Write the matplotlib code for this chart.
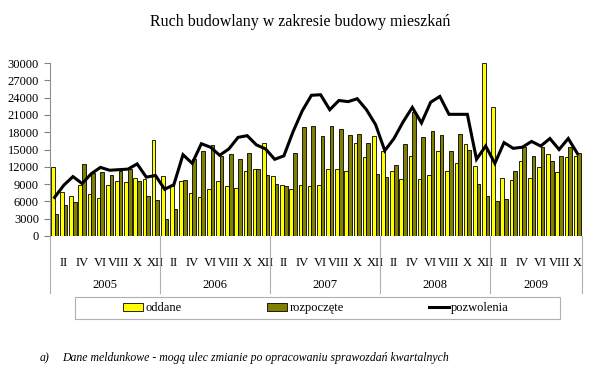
import numpy as np
import matplotlib
matplotlib.use("Agg")
import matplotlib.pyplot as plt
from matplotlib.patches import Patch, Rectangle
from matplotlib.lines import Line2D
import matplotlib.transforms as mtransforms

plt.rcParams['font.family'] = ['Liberation Serif', 'DejaVu Serif']

# monthly data, I 2005 - X 2009
years = ['2005', '2006', '2007', '2008', '2009']
month_names = ['I', 'II', 'III', 'IV', 'V', 'VI', 'VII', 'VIII', 'IX', 'X', 'XI', 'XII']
months_per_year = [12, 12, 12, 12, 10]

oddane = [
    12000, 7600, 6900, 8900, 7300, 6600, 8800, 9600, 9400, 10000, 9900, 16600,
    10400, 8600, 9500, 7400, 6700, 8200, 9600, 8700, 8300, 11350, 11700, 16150,
    10400, 8800, 8200, 8900, 8600, 8900, 11600, 11600, 11200, 16100, 13700, 17400,
    14700, 11200, 9900, 13850, 9900, 10600, 14800, 11350, 12600, 16000, 12200, 30000,
    22300, 10000, 9700, 13000, 10000, 11900, 14200, 11100, 13700, 13800,
]
rozpoczete = [
    3900, 5400, 5900, 12500, 11000, 11100, 10500, 11300, 11600, 9600, 6900, 6300,
    2900, 4600, 9700, 13400, 14800, 15800, 13900, 14250, 13400, 14400, 11700, 10600,
    9000, 8700, 14400, 18900, 19100, 17400, 19100, 18600, 17500, 17700, 16100, 10700,
    10200, 12300, 16000, 21550, 17100, 18250, 17600, 14800, 17700, 14900, 9000, 6950,
    6100, 6500, 11350, 15400, 13900, 15400, 13000, 13900, 15500, 14400,
]
pozwolenia = [
    6700, 8800, 10300, 9100, 10800, 11900, 11400, 11500, 11600, 12500, 10200, 10500,
    8100, 8900, 14100, 12600, 16000, 15400, 14000, 15100, 17100, 17400, 15800, 15100,
    13300, 13900, 18100, 21700, 24400, 24500, 21900, 23500, 23300, 23800, 21900, 19300,
    14800, 16900, 19800, 22300, 19600, 23200, 24200, 21100, 21100, 21100, 13300, 15600,
    12600, 16200, 15200, 15400, 16400, 15600, 16900, 15000, 16900, 14300,
]

YELLOW = '#FFFF00'
OLIVE = '#808000'

fig = plt.figure(figsize=(6, 3.7), dpi=100)
ax = fig.add_axes([50 / 600, 1 - 236 / 370, 532 / 600, 173 / 370])

x = np.arange(len(oddane))
w = 0.4
ax.bar(x - w / 2, oddane, width=w, color=YELLOW, edgecolor='black', linewidth=0.6)
ax.bar(x + w / 2, rozpoczete, width=w, color=OLIVE, edgecolor='black', linewidth=0.6)
ax.plot(x, pozwolenia, color='black', linewidth=2.2, solid_joinstyle='miter')

ax.set_xlim(-0.5, len(oddane) - 0.5)
ax.set_ylim(0, 30000)
ax.set_yticks(np.arange(0, 30001, 3000))
ax.tick_params(axis='y', direction='out', length=4, color='#808080', labelsize=9, pad=4)

for s in ['top', 'right', 'bottom']:
    ax.spines[s].set_visible(False)
ax.spines['left'].set_color('#909090')
ax.spines['left'].set_linewidth(0.8)

# month labels: every second month
labels = []
for n in months_per_year:
    labels += month_names[:n]
ax.set_xticks(x[1::2])
ax.set_xticklabels(labels[1::2], fontsize=9)
ax.tick_params(axis='x', length=0, pad=15)

# year labels and separators
trans = mtransforms.blended_transform_factory(ax.transData, ax.transAxes)
start = 0
bounds = [0]
for yr, n in zip(years, months_per_year):
    ax.text(start + n / 2 - 0.5, -0.285, yr, transform=trans, ha='center', va='center', fontsize=9)
    start += n
    bounds.append(start)
for b in bounds:
    ax.plot([b - 0.5, b - 0.5], [0, -0.33], transform=trans, color='#b0b0b0',
            linewidth=0.8, clip_on=False)

fig.suptitle('Ruch budowlany w zakresie budowy mieszkań', y=1 - 22 / 370,
             va='center', fontsize=11.5)

# legend box
fig.patches.append(Rectangle((75 / 600, 1 - 319 / 370), 485 / 600, 22 / 370,
                             transform=fig.transFigure, facecolor='none',
                             edgecolor='#b0b0b0', linewidth=0.8))
handles = [
    Patch(facecolor=YELLOW, edgecolor='black', linewidth=0.6),
    Patch(facecolor=OLIVE, edgecolor='black', linewidth=0.6),
    Line2D([], [], color='black', linewidth=2.2),
]
fig.legend(handles, ['oddane', 'rozpoczęte', 'pozwolenia'], ncol=3,
           loc='center', bbox_to_anchor=(316 / 600, 1 - 308 / 370),
           fontsize=9, frameon=False, handlelength=1.6, handleheight=0.6,
           handletextpad=0.2, columnspacing=6.8, borderaxespad=0, borderpad=0)

fig.text(40 / 600, 1 - 358 / 370, 'a)', fontsize=8.5, style='italic', va='center')
fig.text(62 / 600, 1 - 358 / 370,
         'Dane meldunkowe - mogą ulec zmianie po opracowaniu sprawozdań kwartalnych',
         fontsize=8.5, style='italic', va='center')

fig.savefig('out.png', dpi=100)
